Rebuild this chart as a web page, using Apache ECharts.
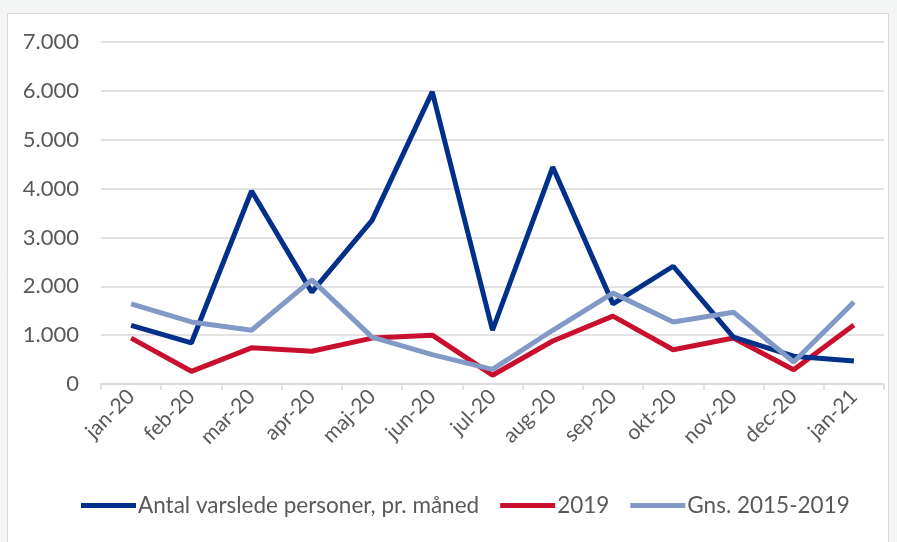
<!DOCTYPE html>
<html><head><meta charset="utf-8">
<script src="https://cdn.jsdelivr.net/npm/echarts@6/dist/echarts.min.js"></script>
<style>html,body{margin:0;padding:0;background:#f4f5f5}#c{width:897px;height:542px}</style>
</head><body><div id="c"></div>
<script>
const categories = ['jan-20','feb-20','mar-20','apr-20','maj-20','jun-20','jul-20','aug-20','sep-20','okt-20','nov-20','dec-20','jan-21'];
const seriesNames = ['Antal varslede personer, pr. måned','2019','Gns. 2015-2019'];
const antal = [1200, 840, 3950, 1880, 3350, 5980, 1100, 4440, 1640, 2410, 960, 570, 470];
const y2019 = [940, 260, 740, 670, 940, 1000, 180, 880, 1390, 700, 940, 290, 1210];
const gns = [1640, 1270, 1100, 2130, 960, 600, 300, 1100, 1860, 1270, 1470, 450, 1680];
const yTicks = [0, 1000, 2000, 3000, 4000, 5000, 6000, 7000];

const FONT = 'Lato, "Liberation Sans", sans-serif';
const chart = echarts.init(document.getElementById('c'), null, {renderer:'canvas'});
const fmt = v => v === 0 ? '0' : String(v).replace(/\B(?=(\d{3})+(?!\d))/g, '.');
const colors = ['#00308a', '#c8102e', '#8298c6'];
chart.setOption({
  animation: false,
  backgroundColor: '#f4f5f5',
  graphic: [{type:'rect', z:-10, shape:{x:7.5, y:13.5, width:881, height:540}, style:{fill:'#ffffff', stroke:'#d9d9d9', lineWidth:1}}],
  color: colors,
  grid: {left:101, right:13, top:42, bottom:158},
  legend: {
    bottom: 20, left: 76,
    itemWidth: 55, itemHeight: 5, itemGap: 21,
    icon: 'rect',
    textStyle: {fontFamily: FONT, fontSize: 22.5, color:'#595959', padding:[0,0,0,-3]},
    data: seriesNames
  },
  xAxis: {
    type:'category', data: categories, boundaryGap: true,
    axisLine: {lineStyle:{color:'#d9d9d9', width:1.5}},
    axisTick: {show:true, length:6, lineStyle:{color:'#d9d9d9', width:1.5}},
    axisLabel: {rotate:45, margin:9, fontFamily: FONT, fontSize:21, color:'#595959'}
  },
  yAxis: {
    type:'value', min: yTicks[0], max: yTicks[yTicks.length-1], interval: 1000,
    axisLine:{show:false}, axisTick:{show:false},
    splitLine:{lineStyle:{color:'#d9d9d9', width:1.5}},
    axisLabel:{formatter: fmt, fontFamily: FONT, fontSize:22, color:'#595959', margin:22}
  },
  series: [
    {name: seriesNames[0], type:'line', data: antal, symbol:'none', lineStyle:{width:5}, z:3},
    {name: seriesNames[1], type:'line', data: y2019, symbol:'none', lineStyle:{width:5}, z:2},
    {name: seriesNames[2], type:'line', data: gns, symbol:'none', lineStyle:{width:5}, z:4}
  ]
});
</script></body></html>
